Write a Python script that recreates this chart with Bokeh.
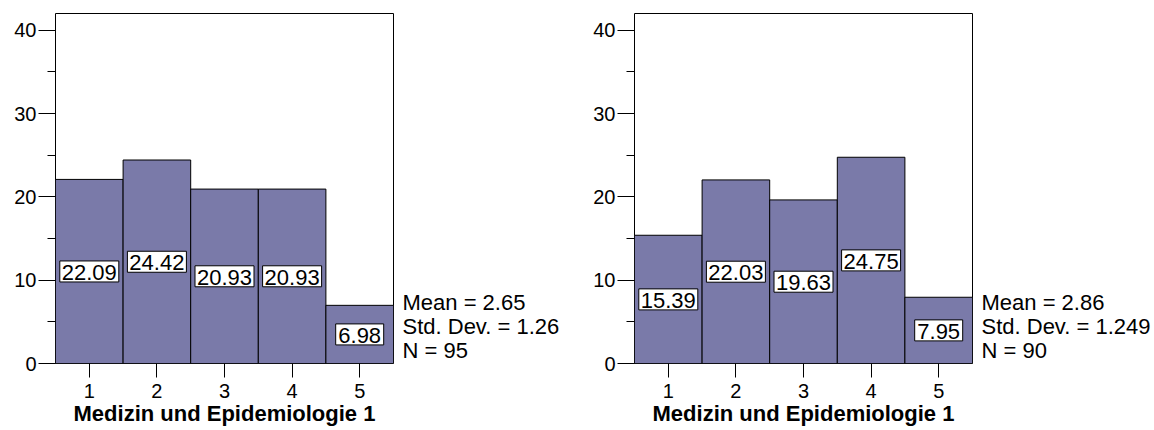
from bokeh.plotting import figure
from bokeh.models import ColumnDataSource, LinearAxis, Range1d, SingleIntervalTicker, FixedTicker
from bokeh.core.properties import value
from bokeh.layouts import row
from bokeh.embed import file_html
from bokeh.resources import INLINE

categories = [1, 2, 3, 4, 5]
left_values = [22.09, 24.42, 20.93, 20.93, 6.98]
right_values = [15.39, 22.03, 19.63, 24.75, 7.95]
left_stats = ["Mean = 2.65", "Std. Dev. = 1.26", "N = 95"]
right_stats = ["Mean = 2.86", "Std. Dev. = 1.249", "N = 90"]
x_title = "Medizin und Epidemiologie 1"

FONT = "Liberation Sans"
BAR = "#7a7aa9"
STAT_ROWS = [7.3, 4.45, 1.6]  # vertical layout slots of the statistics lines


def panel(values, stats, width, border_left, border_right):
    p = figure(width=width, height=430, output_backend="svg", toolbar_location=None,
               x_range=Range1d(0.5, 5.5), y_range=Range1d(0, 42),
               min_border_left=border_left, min_border_right=border_right,
               min_border_top=13, min_border_bottom=67)
    p.background_fill_color = "white"
    p.border_fill_color = "white"
    p.outline_line_color = "black"
    p.outline_line_width = 1
    p.xgrid.visible = False
    p.ygrid.visible = False

    txt = ["%.2f" % v for v in values]
    src = ColumnDataSource(dict(
        x=categories, top=values,
        mid=[v / 2 for v in values],
        txt=txt,
        bw=[len(t) * 11 + 4 for t in txt]))
    p.vbar(x="x", top="top", width=1, source=src, fill_color=BAR, line_color="black", line_width=1)
    p.rect(x="x", y="mid", width="bw", height=21, width_units="screen", height_units="screen",
           source=src, fill_color="white", line_color="black", line_width=1)
    p.text(x="x", y="mid", text="txt", source=src, text_align="center", text_baseline="middle",
           text_font=value(FONT), text_font_size=value("22px"), text_color="black", y_offset=1)

    xa = p.xaxis[0]
    xa.ticker = FixedTicker(ticks=categories)
    xa.axis_line_color = None
    xa.major_tick_out = 14
    xa.major_tick_in = 0
    xa.minor_tick_line_color = None
    xa.major_tick_line_color = "black"
    xa.major_label_standoff = 6
    xa.major_label_text_font = FONT
    xa.major_label_text_font_size = "20px"
    xa.major_label_text_color = "black"
    xa.axis_label = x_title
    xa.axis_label_text_font = FONT
    xa.axis_label_text_font_style = "bold"
    xa.axis_label_text_font_size = "22px"
    xa.axis_label_text_color = "black"
    xa.axis_label_standoff = 0

    ya = p.yaxis[0]
    ya.ticker = SingleIntervalTicker(interval=10, num_minor_ticks=2)
    ya.axis_line_color = None
    ya.major_tick_out = 17
    ya.major_tick_in = 0
    ya.minor_tick_out = 8
    ya.minor_tick_in = 0
    ya.major_tick_line_color = "black"
    ya.minor_tick_line_color = "black"
    ya.major_label_standoff = 2
    ya.major_label_text_font = FONT
    ya.major_label_text_font_size = "20px"
    ya.major_label_text_color = "black"

    sa = LinearAxis(ticker=FixedTicker(ticks=STAT_ROWS),
                    major_label_overrides={k: s for k, s in zip(STAT_ROWS, stats)})
    sa.axis_line_color = None
    sa.major_tick_line_color = None
    sa.minor_tick_line_color = None
    sa.major_tick_out = 0
    sa.major_tick_in = 0
    sa.major_label_standoff = 9
    sa.major_label_text_font = FONT
    sa.major_label_text_font_size = "22px"
    sa.major_label_text_color = "black"
    p.add_layout(sa, "right")
    return p


W1 = 580
p1 = panel(left_values, left_stats, W1, 55, W1 - 55 - 338)
p2 = panel(right_values, right_stats, 1154 - W1, 634 - W1, 1154 - W1 - (634 - W1) - 338)
p = row(p1, p2)
open("out.html", "w").write(file_html(p, INLINE))
